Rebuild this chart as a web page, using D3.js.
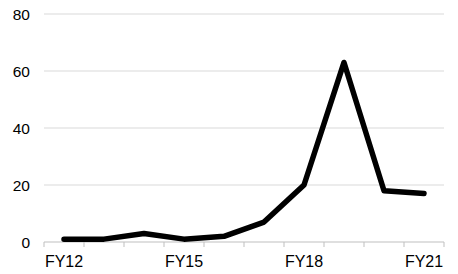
<!DOCTYPE html>
<html><head><meta charset="utf-8">
<script src="https://cdn.jsdelivr.net/npm/d3@7"></script>
<style>body{margin:0;background:#fff}svg{display:block}</style>
</head><body>
<svg id="c" width="458" height="274"></svg>
<script>
const categories = ["FY12","FY13","FY14","FY15","FY16","FY17","FY18","FY19","FY20","FY21"];
const values = [1, 1, 3, 1, 2, 7, 20, 63, 18, 17];
const yTicks = [0, 20, 40, 60, 80];
const xLabels = ["FY12","FY15","FY18","FY21"];

const svg = d3.select("#c");
const m = {l:44, r:14, t:14, b:32};
const W = 458, H = 274;
const x = d3.scaleBand().domain(categories).range([m.l, W - m.r]);
const y = d3.scaleLinear().domain([0, 80]).range([H - m.b, m.t]);
const font = "Liberation Sans, Arial, sans-serif";

// gridlines
svg.append("g").selectAll("line").data(yTicks.filter(d => d > 0)).join("line")
  .attr("x1", m.l).attr("x2", W - m.r)
  .attr("y1", d => y(d)).attr("y2", d => y(d))
  .attr("stroke", "#d9d9d9").attr("stroke-width", 1);

// y labels
svg.append("g").selectAll("text").data(yTicks).join("text")
  .attr("x", 30).attr("y", d => y(d)).attr("dy", "0.36em")
  .attr("text-anchor", "end")
  .attr("font-family", font).attr("font-size", 15.5).attr("fill", "#000")
  .text(d => d);

// x axis line and ticks
const gx = svg.append("g");
gx.append("line").attr("x1", m.l).attr("x2", W - m.r)
  .attr("y1", y(0)).attr("y2", y(0)).attr("stroke", "#bfbfbf");
const bounds = categories.map(c => x(c)).concat([x(categories[categories.length-1]) + x.bandwidth()]);
gx.selectAll("line.t").data(bounds).join("line").attr("class","t")
  .attr("x1", d => d).attr("x2", d => d)
  .attr("y1", y(0)).attr("y2", y(0) + 5).attr("stroke", "#bfbfbf");
gx.selectAll("text").data(xLabels).join("text")
  .attr("x", d => x(d) + x.bandwidth()/2).attr("y", 267)
  .attr("text-anchor", "middle")
  .attr("font-family", font).attr("font-size", 16).attr("fill", "#000")
  .text(d => d);

// line
const line = d3.line()
  .x((d, i) => x(categories[i]) + x.bandwidth()/2)
  .y(d => y(d));
svg.append("path").datum(values)
  .attr("d", line).attr("fill", "none")
  .attr("stroke", "#000").attr("stroke-width", 5.5)
  .attr("stroke-linejoin", "round").attr("stroke-linecap", "round");
</script>
</body></html>
